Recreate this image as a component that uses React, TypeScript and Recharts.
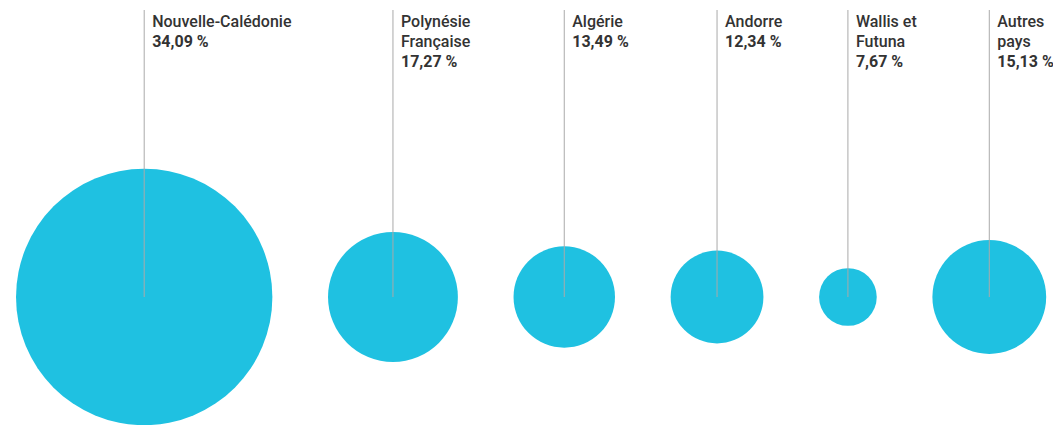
import { ScatterChart, Scatter, XAxis, YAxis, ZAxis } from "recharts";

const countries = [
  "Nouvelle-Calédonie",
  "Polynésie Française",
  "Algérie",
  "Andorre",
  "Wallis et Futuna",
  "Autres pays",
];
const shares = [34.09, 17.27, 13.49, 12.34, 7.67, 15.13];

const WIDTH = 1053;
const HEIGHT = 425;
const PX_PER_UNIT = 3.76; // pixels per percentage point, for both x and radius
const LEFT_PAD = 4.26; // in value units
const GAP = 14.8; // space between bubbles, value units

// bubbles are laid out side by side: each centre sits one radius after the previous edge
let cursor = LEFT_PAD;
const rows = countries.map((name, i) => {
  const x = cursor + shares[i];
  cursor = x + shares[i] + GAP;
  return { name, share: shares[i], x, y: 0 };
});

const maxShare = Math.max(...shares);

const fmt = (v: number) => v.toFixed(2).replace(".", ",") + " %";

function splitName(name: string) {
  const idx = name.lastIndexOf(" ");
  if (idx < 0) return [name];
  return [name.slice(0, idx), name.slice(idx + 1)];
}

const Bubble = (props: any) => {
  const { cx, cy, size, payload } = props;
  const lines = splitName(payload.name);
  return (
    <g>
      <circle cx={cx} cy={cy} r={size} fill="#1fc1e1" />
      <line x1={cx} x2={cx} y1={10} y2={cy} stroke="#aaaaaa" strokeWidth={1} />
      <text
        x={cx + 8}
        y={27}
        fontFamily="Roboto, sans-serif"
        fontSize={16}
        fill="#333333"
      >
        {lines.map((l, i) => (
          <tspan key={i} x={cx + 8} dy={i === 0 ? 0 : 20} fontWeight={500}>
            {l}
          </tspan>
        ))}
        <tspan x={cx + 8} dy={20} fontWeight={700}>
          {fmt(payload.share)}
        </tspan>
      </text>
    </g>
  );
};

export default function App() {
  return (
    <div style={{ position: "absolute", left: 0, top: 0, background: "#fff" }}>
      <ScatterChart
        width={WIDTH}
        height={HEIGHT}
        margin={{ top: 169, right: 0, bottom: 0, left: 0 }}
      >
        <XAxis
          type="number"
          dataKey="x"
          domain={[0, WIDTH / PX_PER_UNIT]}
          hide
        />
        <YAxis type="number" dataKey="y" domain={[-1, 1]} hide />
        <ZAxis
          type="number"
          dataKey="share"
          domain={[0, maxShare]}
          range={[0, maxShare * PX_PER_UNIT]}
        />
        <Scatter data={rows} shape={Bubble} isAnimationActive={false} />
      </ScatterChart>
    </div>
  );
}
